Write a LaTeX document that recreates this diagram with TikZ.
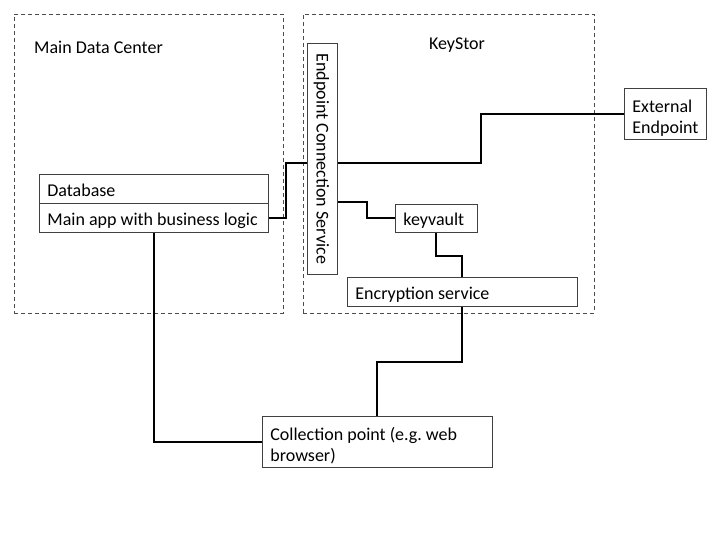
\documentclass[tikz,border=0pt]{standalone}
\usepackage{fontspec}
\setmainfont{Carlito}
\usetikzlibrary{positioning}
\tikzset{
  txt/.style={font=\fontsize{18}{21}\selectfont\frenchspacing},
  box/.style={txt, draw=black!75, line width=0.8pt, rectangle, anchor=north west,
    inner xsep=8pt, inner ysep=0pt, align=flush left, text height=18pt},
  oneline/.style={text depth=3pt},
  twoline/.style={text height=21.5pt},
  zone/.style={draw=black!70, dash pattern=on 4pt off 3pt, line width=0.8pt,
    anchor=north west, inner sep=0pt},
  wire/.style={line width=2pt}
}

\begin{document}
\begin{tikzpicture}[x=1pt,y=-1pt]
		\useasboundingbox (0,0) rectangle (720,540);
		% ZONES
		\node [zone, minimum width=269pt, minimum height=299pt] (dc) at (14,14) {};
		\node [zone, minimum width=291pt, minimum height=299pt] (ks) at (303,14) {};
		\node [txt, anchor=west, inner sep=0pt] (dclabel) at (34,47) {Main Data Center};
		\node [txt] (kslabel) at (457,45) {KeyStor};
		% BOXES
		\node [box, oneline, text width=213pt, minimum height=29pt] (db) at (39,174) {Database};
		\node [box, oneline, text width=213pt, minimum height=29pt] (app) at (39,203) {Main app with business logic};
		\node [box, minimum width=30pt, minimum height=231pt] (ecs) at (307,43) {};
		\node [txt, rotate=-90] (ecslabel) at ([xshift=-1pt]ecs.center) {Endpoint Connection Service};
		\node [box, oneline, text width=66pt, minimum height=28pt] (kv) at (395,204) {keyvault};
		\node [box, oneline, text width=214pt, minimum height=29pt] (enc) at (347,277) {Encryption service};
		\node [box, twoline, text width=66pt, minimum height=51pt] (ext) at (624,88) {External\\Endpoint};
		\node [box, twoline, text width=214pt, minimum height=51pt] (coll) at (262,416) {Collection point (e.g. web\\browser)};
		% WIRES
		\draw [wire] (app.east) -- ++(17,0) |- ([yshift=-4.5pt]ecs.west);
		\draw [wire] ([yshift=-4.5pt]ecs.east) -- ++(143,0) |- (ext.west);
		\draw [wire] ([yshift=-43.5pt]ecs.east) -- ++(29,0) |- (kv.west);
		\draw [wire] (kv.south) -- ++(0,23) -| (enc.north);
		\draw [wire] (enc.south) -- ++(0,55) -| (coll.north);
		\draw [wire] (app.south) |- (coll.west);
\end{tikzpicture}
\end{document}
